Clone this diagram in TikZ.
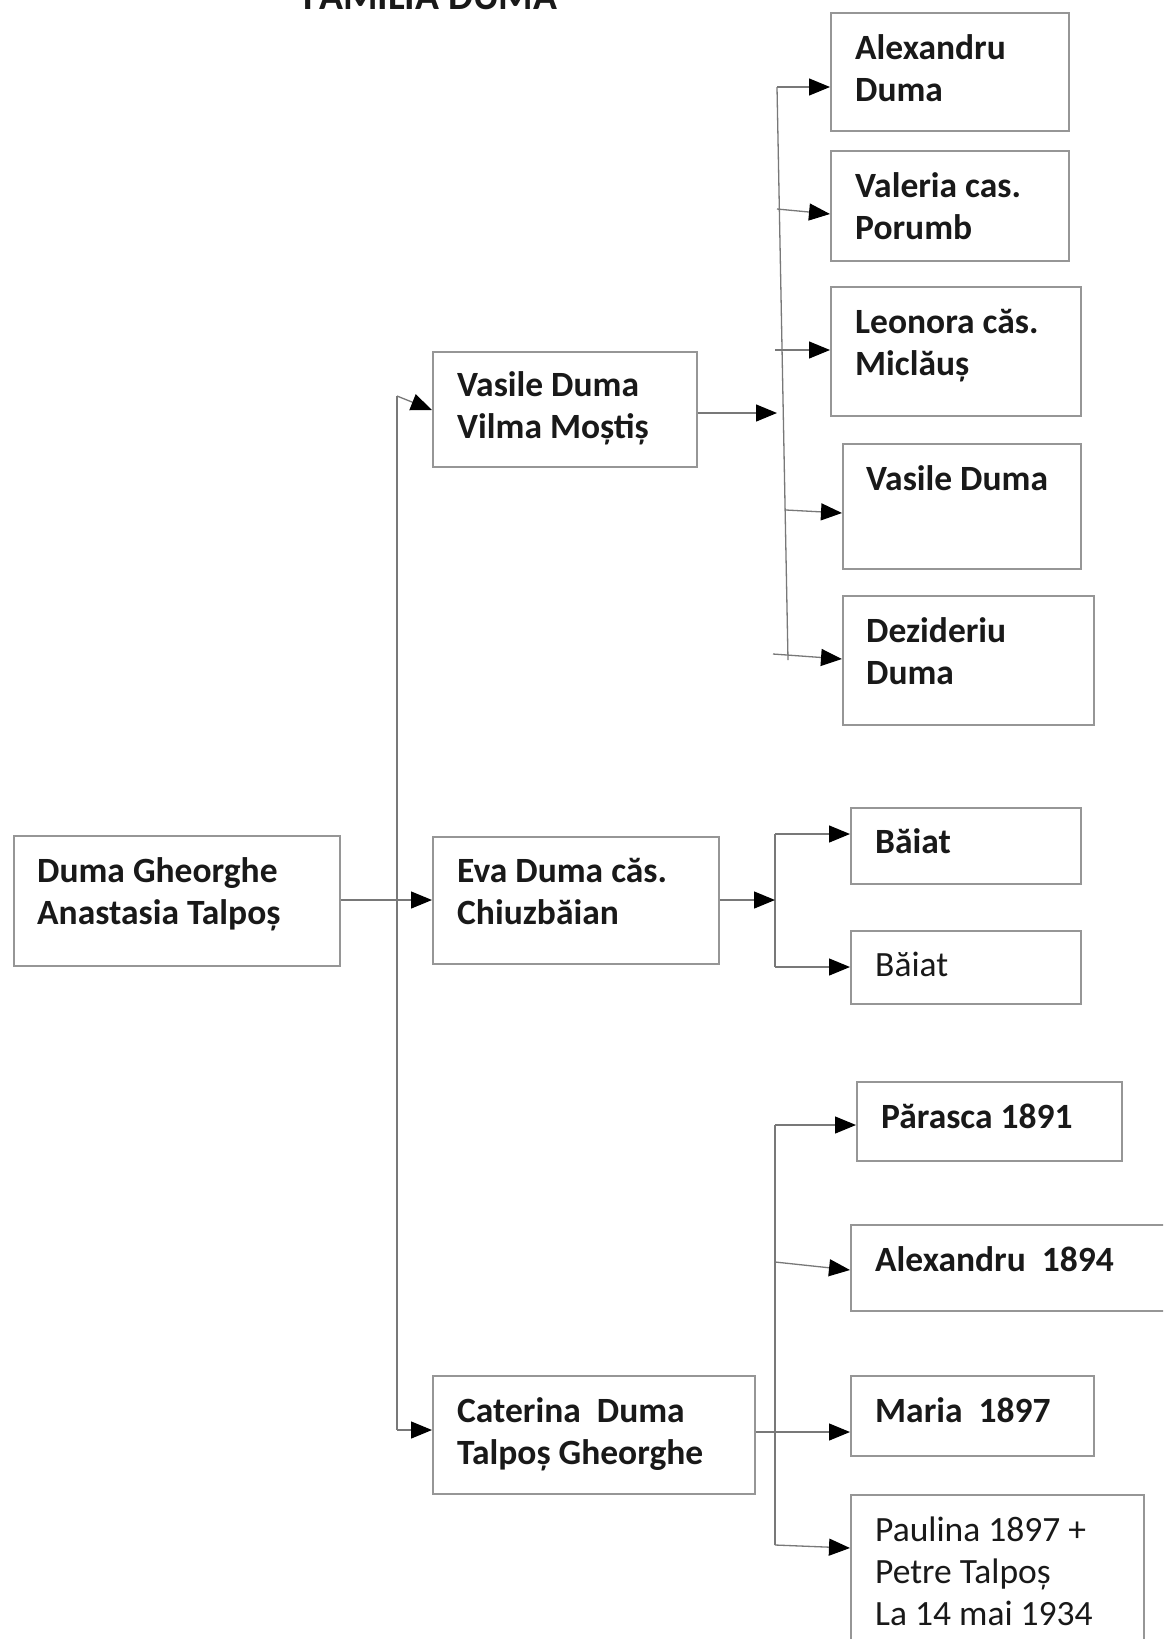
\documentclass[tikz,border=0pt]{standalone}
\usepackage{fontspec}
\setmainfont{Carlito}
\usetikzlibrary{arrows.meta,calc}
\definecolor{boxgray}{RGB}{150,150,150}
\definecolor{linegray}{RGB}{120,120,120}
\definecolor{ink}{RGB}{25,25,25}
\tikzset{
  box/.style={draw=boxgray, line width=1.5pt, anchor=north west, inner sep=0pt, fill=white},
  txt/.style={anchor=north west, inner sep=0pt, align=left, text=ink, font=\fontsize{35.5}{42}\selectfont\bfseries},
  txtr/.style={anchor=north west, inner sep=0pt, align=left, text=ink, font=\fontsize{35.5}{42}\selectfont},
  conn/.style={draw=linegray, line width=1.3pt, -{Triangle[length=21pt,width=17pt,color=black]}},
  trunk/.style={draw=linegray, line width=1.3pt},
}
\newcommand{\firstline}{\rule{0pt}{28pt}}
\begin{document}
\begin{tikzpicture}[x=1pt,y=-1pt]
\clip (0,0) rectangle (1163,1639);
\fill[white] (0,0) rectangle (1163,1639);

% title (cut off at top, as in the reference)
\node[anchor=base west, inner sep=0pt, text=ink, font=\fontsize{39.5}{42}\selectfont\bfseries] (title) at (303,9) {FAMILIA DUMA};

% boxes
\node[box, minimum width=326pt, minimum height=130pt] (root) at (13,835) {};
\node[box, minimum width=264pt, minimum height=115pt] (vas) at (432,351) {};
\node[box, minimum width=286pt, minimum height=127pt] (eva) at (432,836) {};
\node[box, minimum width=322pt, minimum height=118pt] (cat) at (432,1375) {};

\node[box, minimum width=238pt, minimum height=118pt] (c1) at (830,12) {};
\node[box, minimum width=238pt, minimum height=110pt] (c2) at (830,150) {};
\node[box, minimum width=250pt, minimum height=129pt] (c3) at (830,286) {};
\node[box, minimum width=238pt, minimum height=125pt] (c4) at (842,443) {};
\node[box, minimum width=251pt, minimum height=129pt] (c5) at (842,595) {};

\node[box, minimum width=230pt, minimum height=76pt] (b1) at (850,807) {};
\node[box, minimum width=230pt, minimum height=73pt] (b2) at (850,930) {};

\node[box, minimum width=265pt, minimum height=79pt] (p1) at (856,1081) {};
\node[box, minimum width=330pt, minimum height=86pt] (p2) at (850,1224) {};
\node[box, minimum width=243pt, minimum height=80pt] (p3) at (850,1375) {};
\node[box, minimum width=293pt, minimum height=170pt] (p4) at (850,1494) {};

% texts
\node[txt] (roott) at ([xshift=24pt,yshift=-19pt]root.north west) {\firstline Duma Gheorghe\\Anastasia Talpoș};
\node[txt] (vast) at ([xshift=25pt,yshift=-17pt]vas.north west) {\firstline Vasile Duma\\Vilma Moștiș};
\node[txt] (evat) at ([xshift=25pt,yshift=-18pt]eva.north west) {\firstline Eva Duma căs.\\Chiuzbăian};
\node[txt] (catt) at ([xshift=25pt,yshift=-19pt]cat.north west) {\firstline Caterina\ \ Duma\\Talpoș Gheorghe};

\node[txt] (c1t) at ([xshift=25pt,yshift=-19pt]c1.north west) {\firstline Alexandru\\Duma};
\node[txt] (c2t) at ([xshift=25pt,yshift=-19pt]c2.north west) {\firstline Valeria cas.\\Porumb};
\node[txt] (c3t) at ([xshift=25pt,yshift=-19pt]c3.north west) {\firstline Leonora căs.\\Miclăuș};
\node[txt] (c4t) at ([xshift=24pt,yshift=-19pt]c4.north west) {\firstline Vasile Duma};
\node[txt] (c5t) at ([xshift=24pt,yshift=-19pt]c5.north west) {\firstline Dezideriu\\Duma};

\node[txt] (b1t) at ([xshift=25pt,yshift=-18pt]b1.north west) {\firstline Băiat};
\node[txtr] (b2t) at ([xshift=25pt,yshift=-18pt]b2.north west) {\firstline Băiat};

\node[txt] (p1t) at ([xshift=25pt,yshift=-19pt]p1.north west) {\firstline Părasca 1891};
\node[txt] (p2t) at ([xshift=25pt,yshift=-19pt]p2.north west) {\firstline Alexandru\ \ 1894};
\node[txt] (p3t) at ([xshift=25pt,yshift=-19pt]p3.north west) {\firstline Maria\ \ 1897};
\node[txtr] (p4t) at ([xshift=25pt,yshift=-19pt]p4.north west) {\firstline Paulina 1897 +\\Petre Talpoș\\La 14 mai 1934};

% level 1 connectors
\coordinate (ttop) at (397,396);
\coordinate (tbot) at (397,1430);
\draw[trunk] (ttop) -- (tbot);
\draw[conn] (root.east |- 0,900) -- (eva.west |- 0,900);
\draw[conn] (ttop) -- (vas.west |- 0,410);
\draw[conn] (tbot) -- (cat.west |- tbot);

% Vasile children
\coordinate (vtop) at (777,87);
\coordinate (vbot) at (788,660);
\draw[trunk] (vtop) -- (vbot);
\draw[conn] (vas.east |- 0,413) -- (777,413);
\draw[conn] (vtop) -- (c1.west |- vtop);
\draw[conn] (777,209) -- (c2.west |- 0,214);
\draw[conn] (775,350) -- (c3.west |- 0,350);
\draw[conn] (786,510) -- (c4.west |- 0,513);
\draw[conn] (773,654) -- (c5.west |- 0,659);

% Eva children
\coordinate (etop) at (775,834);
\coordinate (ebot) at (775,967);
\draw[trunk] (etop) -- (ebot);
\draw[conn] (eva.east |- 0,900) -- (775,900);
\draw[conn] (etop) -- (b1.west |- etop);
\draw[conn] (ebot) -- (b2.west |- ebot);

% Caterina children
\coordinate (ktop) at (775,1125);
\coordinate (kbot) at (775,1545);
\draw[trunk] (ktop) -- (kbot);
\draw[conn] (ktop) -- (p1.west |- ktop);
\draw[conn] (775,1262) -- (p2.west |- 0,1270);
\draw[conn] (cat.east |- 0,1432) -- (p3.west |- 0,1432);
\draw[conn] (kbot) -- (p4.west |- 0,1548);
\end{tikzpicture}
\end{document}
